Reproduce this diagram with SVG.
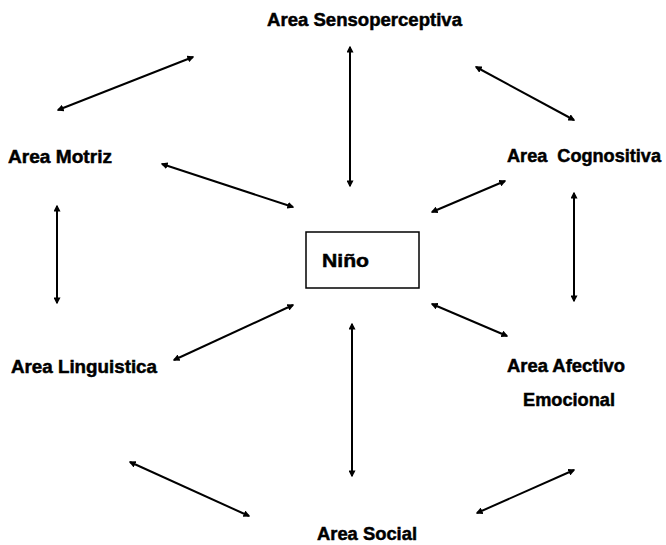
<svg xmlns="http://www.w3.org/2000/svg" width="666" height="545" viewBox="0 0 666 545">
<style>
text{font-family:"Liberation Sans",Arial,sans-serif;font-weight:bold;font-size:18.5px;fill:#000;stroke:#000;stroke-width:0.5}
.c line{stroke:#000;stroke-width:2;marker-start:url(#ah);marker-end:url(#ah)}
</style>
<defs>
<marker id="ah" viewBox="0 0 10 10" refX="8" refY="5" markerWidth="3.5" markerHeight="3.5" orient="auto-start-reverse" markerUnits="strokeWidth">
<path d="M0,0L10,5L0,10z" fill="#000"/>
</marker>
</defs>
<rect width="666" height="545" fill="#fff"/>
<g id="nino">
<rect x="306" y="232" width="113" height="56" fill="none" stroke="#000" stroke-width="1.5"/>
<text x="322" y="267" font-size="20.5" textLength="47" lengthAdjust="spacingAndGlyphs">Niño</text>
</g>
<g id="sensoperceptiva"><text x="267" y="26" textLength="195" lengthAdjust="spacingAndGlyphs">Area Sensoperceptiva</text></g>
<g id="motriz"><text x="8" y="163" textLength="104" lengthAdjust="spacingAndGlyphs">Area Motriz</text></g>
<g id="cognositiva"><text x="507" y="162" textLength="154" lengthAdjust="spacingAndGlyphs" xml:space="preserve">Area  Cognositiva</text></g>
<g id="linguistica"><text x="11" y="373" textLength="146" lengthAdjust="spacingAndGlyphs">Area Linguistica</text></g>
<g id="afectivo">
<text x="507" y="372" textLength="118" lengthAdjust="spacingAndGlyphs">Area Afectivo</text>
<text x="523" y="406" textLength="92" lengthAdjust="spacingAndGlyphs">Emocional</text>
</g>
<g id="social"><text x="317" y="540" textLength="100" lengthAdjust="spacingAndGlyphs">Area Social</text></g>
<g class="c" id="connectors">
<line x1="350" y1="47" x2="350" y2="186"/>
<line x1="58" y1="110" x2="193" y2="57"/>
<line x1="476" y1="67" x2="574" y2="120"/>
<line x1="162" y1="164" x2="293" y2="207"/>
<line x1="505" y1="181" x2="432" y2="212"/>
<line x1="57" y1="206" x2="57" y2="303"/>
<line x1="574" y1="193" x2="574" y2="301"/>
<line x1="174" y1="360" x2="293" y2="305"/>
<line x1="432" y1="304" x2="507" y2="336"/>
<line x1="352" y1="324" x2="352" y2="476"/>
<line x1="130" y1="462" x2="249" y2="516"/>
<line x1="477" y1="513" x2="574" y2="470"/>
</g>
</svg>
